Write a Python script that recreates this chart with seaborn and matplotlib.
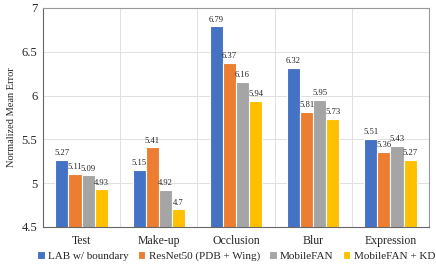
import matplotlib
matplotlib.use("Agg")
import matplotlib.pyplot as plt
import seaborn as sns
import pandas as pd

categories = ["Test", "Make-up", "Occlusion", "Blur", "Expression"]
series = ["LAB w/ boundary", "ResNet50 (PDB + Wing)", "MobileFAN", "MobileFAN + KD"]
lab = [5.27, 5.15, 6.79, 6.32, 5.51]
resnet = [5.11, 5.41, 6.37, 5.81, 5.36]
mobilefan = [5.09, 4.92, 6.16, 5.95, 5.43]
mobilefan_kd = [4.93, 4.7, 5.94, 5.73, 5.27]
yticks = [4.5, 5, 5.5, 6, 6.5, 7]
colors = ["#4472C4", "#ED7D31", "#A5A5A5", "#FFC000"]

rows = []
for s, vals in zip(series, [lab, resnet, mobilefan, mobilefan_kd]):
    for c, v in zip(categories, vals):
        rows.append({"cat": c, "series": s, "val": v})
df = pd.DataFrame(rows)

sns.set_style("white")
plt.rcParams["font.family"] = ["Liberation Serif", "DejaVu Serif"]

fig = plt.figure(figsize=(4.36, 2.68), dpi=100)
ax = fig.add_axes([43/436, 1 - 227/268, (429 - 43)/436, (227 - 8)/268])
sns.barplot(data=df, x="cat", y="val", hue="series", palette=colors, width=0.68,
            saturation=1, edgecolor="white", linewidth=0.8, ax=ax, legend=True)
ax.set_ylim(4.5, 7)
ax.set_yticks(yticks)
ax.set_yticklabels([f"{t:g}" for t in yticks], fontsize=9)
ax.tick_params(axis="x", labelsize=8.5, length=0, pad=6)
ax.tick_params(axis="y", length=0, pad=4)
ax.set_xlabel("")
ax.set_ylabel("Normalized Mean Error", fontsize=7.5)
ax.set_xlim(-0.5, len(categories) - 0.5)
ax.grid(axis="y", color="#E0E0E0", linewidth=0.7)
for x in [0.5, 1.5, 2.5, 3.5]:
    ax.axvline(x, color="#E0E0E0", linewidth=0.7, zorder=0)
ax.set_axisbelow(True)
for sp in ["top", "right"]:
    ax.spines[sp].set_color("#999999")
    ax.spines[sp].set_linewidth(0.8)
for sp in ["left", "bottom"]:
    ax.spines[sp].set_color("#666666")
    ax.spines[sp].set_linewidth(0.8)

for cont in ax.containers:
    ax.bar_label(cont, labels=[f"{v:g}" for v in cont.datavalues], fontsize=6.2, padding=2)

handles, labels = ax.get_legend_handles_labels()
ax.legend_.remove()
fig.legend(handles, labels, loc="center", bbox_to_anchor=(236/436, 1 - 256/268), ncol=4,
           frameon=False, fontsize=8, handlelength=0.7, handleheight=0.7,
           handletextpad=0.3, columnspacing=0.8)
fig.savefig("out.png", dpi=100)
